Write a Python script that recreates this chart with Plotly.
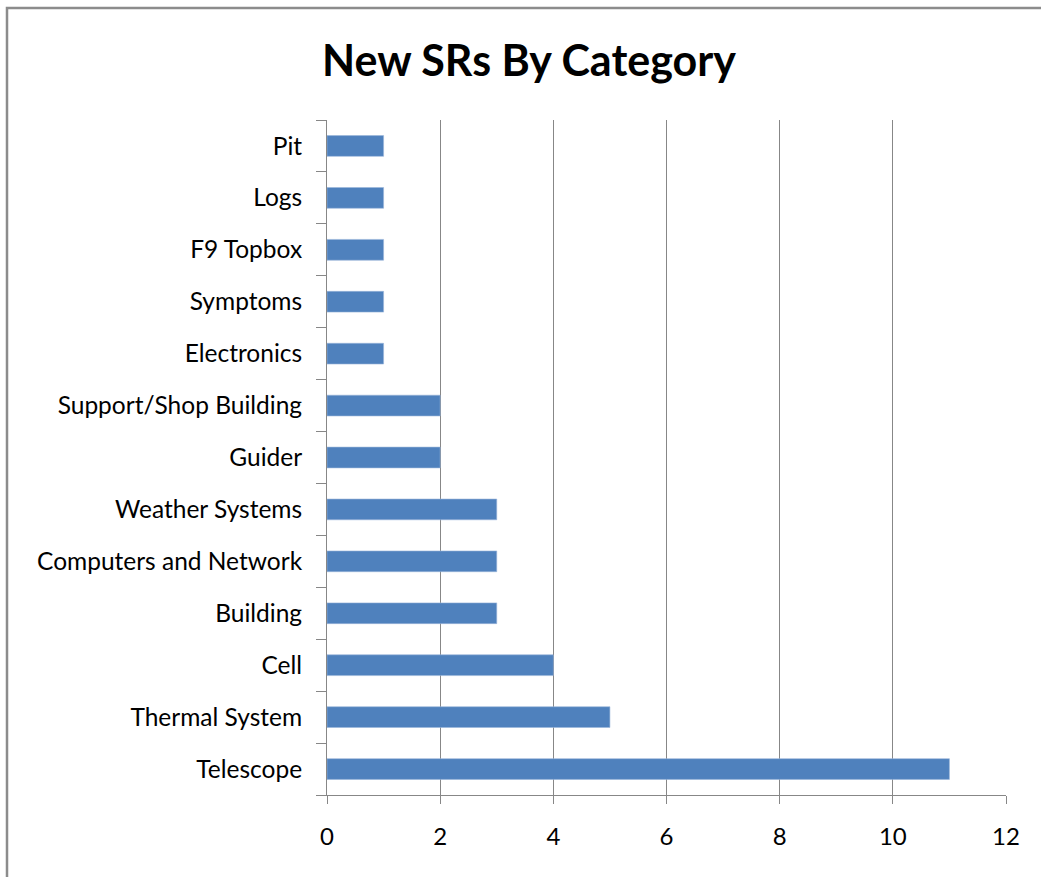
import plotly.graph_objects as go

# New service requests by category (bottom to top)
categories = [
    "Telescope", "Thermal System", "Cell", "Building", "Computers and Network",
    "Weather Systems", "Guider", "Support/Shop Building", "Electronics",
    "Symptoms", "F9 Topbox", "Logs", "Pit",
]
counts = [11, 5, 4, 3, 3, 3, 2, 2, 1, 1, 1, 1, 1]
x_ticks = [0, 2, 4, 6, 8, 10, 12]

W, H = 1041, 877
ML, MR, MT, MB = 327, 35, 120, 82
pw, ph = W - ML - MR, H - MT - MB

FONT = "Lato"
GRID = "#878787"

fig = go.Figure(
    go.Bar(
        y=categories,
        x=counts,
        orientation="h",
        marker=dict(color="#4F81BD", line=dict(color="#9BB6DA", width=0.6)),
        hoverinfo="x+y",
    )
)

# chart frame around the whole figure
fig.add_shape(
    type="rect", xref="paper", yref="paper",
    x0=(7 - ML) / pw, x1=(W + 20 - ML) / pw,
    y0=-(H + 20 - MT - ph) / ph, y1=1 + (MT - 8) / ph,
    line=dict(color="#8C8C8C", width=2.5), layer="below",
)

fig.update_layout(
    width=W, height=H,
    margin=dict(l=ML, r=MR, t=MT, b=MB),
    paper_bgcolor="white", plot_bgcolor="white",
    bargap=0.6,
    showlegend=False,
    title=dict(
        text="<b>New SRs By Category</b>",
        x=529 / W, xanchor="center",
        y=1 - 61 / H, yanchor="middle",
        font=dict(family=FONT, size=43, color="black"),
    ),
    xaxis=dict(
        range=[0, 12], tickvals=x_ticks,
        showgrid=True, gridcolor=GRID, gridwidth=1,
        showline=True, linecolor=GRID, linewidth=1,
        ticks="outside", ticklen=8, tickcolor=GRID,
        tickfont=dict(family=FONT, size=24, color="black"),
        ticklabelstandoff=12,
        zeroline=False, fixedrange=True,
    ),
    yaxis=dict(
        categoryorder="array", categoryarray=categories,
        showline=True, linecolor=GRID, linewidth=1,
        ticks="outside", ticklen=10, tickcolor=GRID,
        tickson="boundaries",
        tickfont=dict(family=FONT, size=24.5, color="black"),
        ticklabelstandoff=19,
        showgrid=False, fixedrange=True,
    ),
)

fig.write_html("out.html")
